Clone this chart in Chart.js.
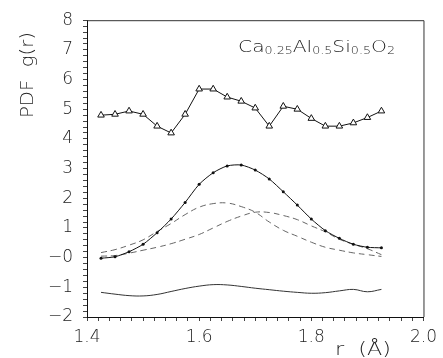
<!DOCTYPE html>
<html>
<head>
<meta charset="utf-8">
<script src="https://cdn.jsdelivr.net/npm/chart.js@4.4.1/dist/chart.umd.min.js"></script>
<style>
  html, body { margin: 0; padding: 0; background: #fff; }
</style>
</head>
<body>
<canvas id="pdfChart" width="443" height="358"></canvas>
<script>
// r values (Å) shared by every curve
const rValues = [1.425, 1.45, 1.475, 1.5, 1.525, 1.55, 1.575, 1.6, 1.625, 1.65, 1.675,
                 1.7, 1.725, 1.75, 1.775, 1.8, 1.825, 1.85, 1.875, 1.9, 1.925];

// measured PDF, shifted up (triangles)
const measured = [4.80, 4.83, 4.94, 4.83, 4.43, 4.20, 4.83, 5.68, 5.68, 5.41, 5.27,
                  5.04, 4.43, 5.10, 5.00, 4.69, 4.43, 4.43, 4.54, 4.72, 4.94];
// total fit (solid with dots)
const fitTotal = [-0.02, 0.03, 0.20, 0.45, 0.84, 1.30, 1.86, 2.47, 2.86, 3.09, 3.12,
                  2.95, 2.65, 2.22, 1.77, 1.30, 0.91, 0.65, 0.45, 0.35, 0.33];
// the two gaussian components (dashed)
const peakA = [0.17, 0.27, 0.42, 0.60, 0.88, 1.15, 1.45, 1.70, 1.82, 1.84, 1.72,
               1.53, 1.20, 0.92, 0.72, 0.52, 0.35, 0.25, 0.16, 0.10, 0.04];
const peakB = [0.05, 0.07, 0.15, 0.25, 0.35, 0.47, 0.62, 0.78, 1.00, 1.22, 1.40,
               1.53, 1.52, 1.42, 1.28, 1.07, 0.87, 0.62, 0.45, 0.30, 0.10];
// residual, shifted down
const residual = [-1.17, -1.23, -1.28, -1.29, -1.24, -1.14, -1.04, -0.96, -0.91, -0.92, -0.97,
                  -1.03, -1.08, -1.13, -1.17, -1.20, -1.18, -1.12, -1.07, -1.15, -1.07];

// axis tick labels
const xTickLabels = ['1.4', '1.6', '1.8', '2.0'];
const yTickLabels = ['\u22122', '\u22121', '\u22120', '1', '2', '3', '4', '5', '6', '7', '8'];

const FONT = 'DejaVu Sans';
const LIGHT = '200 ';
const pts = arr => arr.map((y, i) => ({ x: rValues[i], y }));

// draws text pieces one after another, stretched to a given width
function stretchedText(ctx, parts, x, y, width, angle) {
  let total = 0;
  parts.forEach(p => { ctx.font = p.font; total += ctx.measureText(p.text).width; });
  ctx.save();
  ctx.translate(x, y);
  ctx.rotate(angle);
  ctx.scale(width / total, 1);
  let cx = 0;
  parts.forEach(p => {
    ctx.font = p.font;
    ctx.fillText(p.text, cx, p.dy || 0);
    cx += ctx.measureText(p.text).width;
  });
  ctx.restore();
}

// frame, formula and axis titles
const extras = {
  id: 'extras',
  afterDraw(chart) {
    const { ctx, chartArea: a } = chart;
    ctx.save();
    ctx.strokeStyle = '#333';
    ctx.lineWidth = 1;
    ctx.beginPath();
    ctx.moveTo(a.left, a.top + 0.5);
    ctx.lineTo(a.right + 0.5, a.top + 0.5);
    ctx.lineTo(a.right + 0.5, a.bottom);
    ctx.stroke();

    ctx.fillStyle = '#222';
    ctx.textBaseline = 'alphabetic';
    ctx.textAlign = 'left';
    const big = LIGHT + '16px "' + FONT + '"';
    const small = LIGHT + '10px "' + FONT + '"';
    stretchedText(ctx, [
      { text: 'Ca', font: big }, { text: '0.25', font: small, dy: 2 },
      { text: 'Al', font: big }, { text: '0.5', font: small, dy: 2 },
      { text: 'Si', font: big }, { text: '0.5', font: small, dy: 2 },
      { text: 'O', font: big }, { text: '2', font: small, dy: 2 }
    ], 238, 52, 157, 0);

    const title = LIGHT + '18px "' + FONT + '"';
    stretchedText(ctx, [{ text: 'r  (\u00c5)', font: title }], 335, 355, 56, 0);
    stretchedText(ctx, [{ text: 'PDF  g(r)', font: LIGHT + '17px "' + FONT + '"' }],
                  33, 118, 86, -Math.PI / 2);
    ctx.restore();
  }
};

new Chart(document.getElementById('pdfChart'), {
  type: 'line',
  data: {
    datasets: [
      { data: pts(measured), borderColor: '#111', borderWidth: 1, tension: 0,
        pointStyle: 'triangle', pointRadius: 3.8, pointBorderColor: '#111',
        pointBackgroundColor: '#fff', pointBorderWidth: 1 },
      { data: pts(fitTotal), borderColor: '#111', borderWidth: 1, tension: 0.25,
        pointRadius: 1.5, pointBackgroundColor: '#111', pointBorderWidth: 0 },
      { data: pts(peakA), borderColor: '#666', borderWidth: 1, borderDash: [6, 4],
        tension: 0.4, pointRadius: 0 },
      { data: pts(peakB), borderColor: '#666', borderWidth: 1, borderDash: [6, 4],
        tension: 0.4, pointRadius: 0 },
      { data: pts(residual), borderColor: '#333', borderWidth: 1,
        tension: 0.4, pointRadius: 0 }
    ]
  },
  options: {
    responsive: false,
    animation: false,
    layout: { autoPadding: false, padding: { top: 20, right: 13, left: 0, bottom: 0 } },
    plugins: { legend: { display: false }, tooltip: { enabled: false } },
    scales: {
      x: {
        type: 'linear', min: 1.4, max: 2.0,
        afterFit(s) { s.height = 41; },
        grid: { drawOnChartArea: false, drawTicks: true, tickLength: 4, color: '#444' },
        border: { display: true, color: '#111', width: 1 },
        ticks: {
          stepSize: 0.02, autoSkip: false, maxRotation: 0, padding: 6,
          color: '#222', font: { family: FONT, size: 17, weight: 200 },
          callback(v) {
            const k = Math.round((v - 1.4) / 0.2);
            return Math.abs(v - (1.4 + k * 0.2)) < 1e-6 ? xTickLabels[k] : '';
          }
        }
      },
      y: {
        min: -2, max: 8,
        afterFit(s) { s.width = 87; },
        grid: { drawOnChartArea: false, drawTicks: true, tickLength: 4, color: '#444' },
        border: { display: true, color: '#111', width: 1 },
        ticks: {
          stepSize: 0.2, autoSkip: false, padding: 10,
          color: '#222', font: { family: FONT, size: 17, weight: 200 },
          callback(v) {
            const k = Math.round(v);
            return Math.abs(v - k) < 1e-6 ? yTickLabels[k + 2] : '';
          }
        }
      }
    }
  },
  plugins: [extras]
});
</script>
</body>
</html>
